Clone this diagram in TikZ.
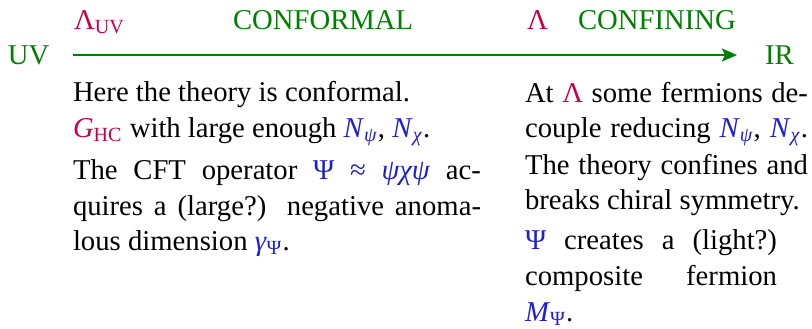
\documentclass[tikz,border=0pt]{standalone}
\usepackage{fontspec}
\setmainfont{Liberation Serif}
\usetikzlibrary{arrows.meta}
\definecolor{hgreen}{RGB}{0,128,0}
\definecolor{hred}{RGB}{200,0,75}
\definecolor{hblue}{RGB}{30,30,210}
\newcommand{\Blu}[1]{\textcolor{hblue}{#1}}
\newcommand{\Rd}[1]{\textcolor{hred}{#1}}
\newcommand{\Npsi}{\Blu{\textit{N}\textsubscript{\textit{ψ}}}}
\newcommand{\Nchi}{\Blu{\textit{N}\textsubscript{\textit{χ}}}}
\newcommand{\Just}[2]{\makebox[#1][s]{#2}}
\begin{document}
\begin{tikzpicture}[x=0.5pt,y=-0.5pt,
  every node/.style={inner sep=0pt, outer sep=0pt, anchor=base west,
    font=\fontsize{14.35}{17}\selectfont},
  hd/.style={text=hgreen},
  hl/.style={text=hred},
  body/.style={text=black},
  flow/.style={draw=hgreen, line width=1.2pt,
    -{Stealth[length=7.5pt,width=6.5pt,inset=1.5pt]}}]
\useasboundingbox (0,0) rectangle (812,328);
% header
\node[hd] (uv) at (8,64) {UV};
\node[hl] (luv) at (74,29) {Λ\textsubscript{UV}};
\node[hd] (conf) at (233,29) {CONFORMAL};
\node[hl] (lam) at (527,29) {Λ};
\node[hd] (confi) at (578,29) {CONFINING};
\node[hd] (ir) at (765,64) {IR};
\coordinate (as) at (73,55);
\coordinate (ae) at (737,55);
\draw[flow] (as) -- (ae);
% left column
\node[body] (l1) at (73,101) {Here the theory is conformal.};
\node[body] (l2) at (73,137) {\Rd{\textit{G}\textsubscript{HC}} with large enough \Npsi, \Nchi.};
\node[body] (l3) at (73,179) {\Just{204pt}{The CFT operator \Blu{Ψ ≈ \textit{ψχψ}} ac-}};
\node[body] (l4) at (73,215) {\Just{204pt}{quires a (large?) negative anoma-}};
\node[body] (l5) at (73,250) {lous dimension \Blu{\textit{γ}\textsubscript{Ψ}}.};
% right column
\node[body] (r1) at (525,102) {\Just{141.5pt}{At \Rd{Λ} some fermions de-}};
\node[body] (r2) at (525,137) {\Just{141.5pt}{couple reducing \Npsi, \Nchi.}};
\node[body] (r3) at (525,174) {\Just{141.5pt}{The theory confines and}};
\node[body] (r4) at (525,209) {breaks chiral symmetry.};
\node[body] (r5) at (525,249) {\Just{126pt}{\Blu{Ψ} creates a (light?)}};
\node[body] (r6) at (525,285) {\Just{126pt}{composite fermion}};
\node[body] (r7) at (525,321) {\Blu{\textit{M}\textsubscript{Ψ}}.};
\end{tikzpicture}
\end{document}
